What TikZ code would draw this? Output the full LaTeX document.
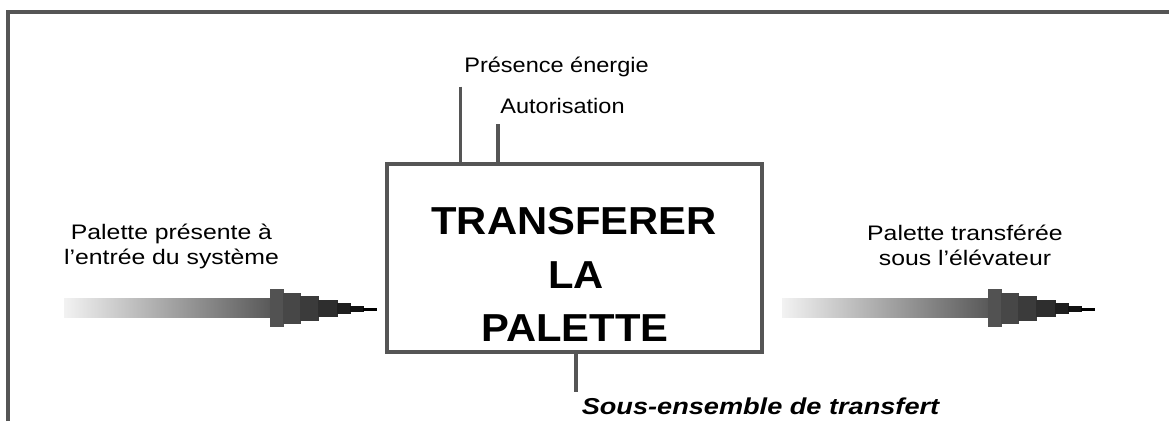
\documentclass[tikz,border=0pt]{standalone}
\usepackage{fontspec}
\setmainfont{Liberation Sans}
\definecolor{linegray}{HTML}{555555}
\newcommand\hs[2][1.13]{\scalebox{#1}[1]{#2}}
\newcommand\flowarrow[1]{%
\begin{scope}[xshift=#1]
  \shade[left color=black!5, right color=black!65] (64,298) rectangle (270.5,317);
  \fill[black!68] (270,289) rectangle (283.5,327);
  \fill[black!72] (283,292.5) rectangle (300.5,323.5);
  \fill[black!77] (300,296) rectangle (318.5,320.5);
  \fill[black!82] (318,299.5) rectangle (337.5,317);
  \fill[black!88] (337,303) rectangle (350.5,313.5);
  \fill[black!93] (350,305.5) rectangle (363.5,311.5);
  \fill[black] (363,308) rectangle (377,310.5);
\end{scope}}
\begin{document}
\begin{tikzpicture}[x=1pt,y=-1pt,
  frame/.style={draw=linegray, line width=4pt},
  conn/.style={draw=linegray, line width=3.5pt},
  box/.style={draw=linegray, line width=4pt, minimum width=375.5pt, minimum height=188.3pt, inner sep=0pt},
  lbl/.style={font=\fontsize{21}{25}\selectfont, inner sep=0pt, anchor=base},
  big/.style={font=\fontsize{39}{44}\bfseries, inner sep=0pt, anchor=base},
  sub/.style={font=\fontsize{23}{27}\selectfont\bfseries\itshape, inner sep=0pt, anchor=base}]
\useasboundingbox (0,0) rectangle (1169,421);
% open frame
\draw[frame] (7.5,421) -- (7.5,12) -- (1169,12);
% function box
\node[box] (main) at (574.25,257.85) {};
\node[big] (t1) at (574,234) {\hs[1.07]{TRANSFERER}};
\node[big] (t2) at (576,288) {\hs[1.07]{LA}};
\node[big] (t3) at (575,341) {\hs[1.07]{PALETTE}};
% control inputs
\coordinate (pe) at (460.5,86.7);
\coordinate (au) at (498,124);
\coordinate (se) at (576,391.7);
\draw[conn] (pe) -- (pe |- main.north);
\draw[conn] (au) -- (au |- main.north);
\draw[conn] (se |- main.south) -- (se);
\node[lbl] (lpe) at (556.5,72.7) {\hs[1.12]{Présence énergie}};
\node[lbl] (lau) at (562.5,113.3) {\hs[1.12]{Autorisation}};
% input / output
\flowarrow{0pt}
\flowarrow{718pt}
\node[lbl] (in1) at (171.5,239.3) {\hs[1.18]{Palette présente à}};
\node[lbl] (in2) at (171.5,264.5) {\hs[1.18]{l’entrée du système}};
\node[lbl] (out1) at (965,240) {\hs[1.18]{Palette transférée}};
\node[lbl] (out2) at (965,265) {\hs[1.18]{sous l’élévateur}};
% support
\node[sub] (sup) at (760.5,414) {\hs[1.18]{Sous-ensemble de transfert}};
\end{tikzpicture}
\end{document}
